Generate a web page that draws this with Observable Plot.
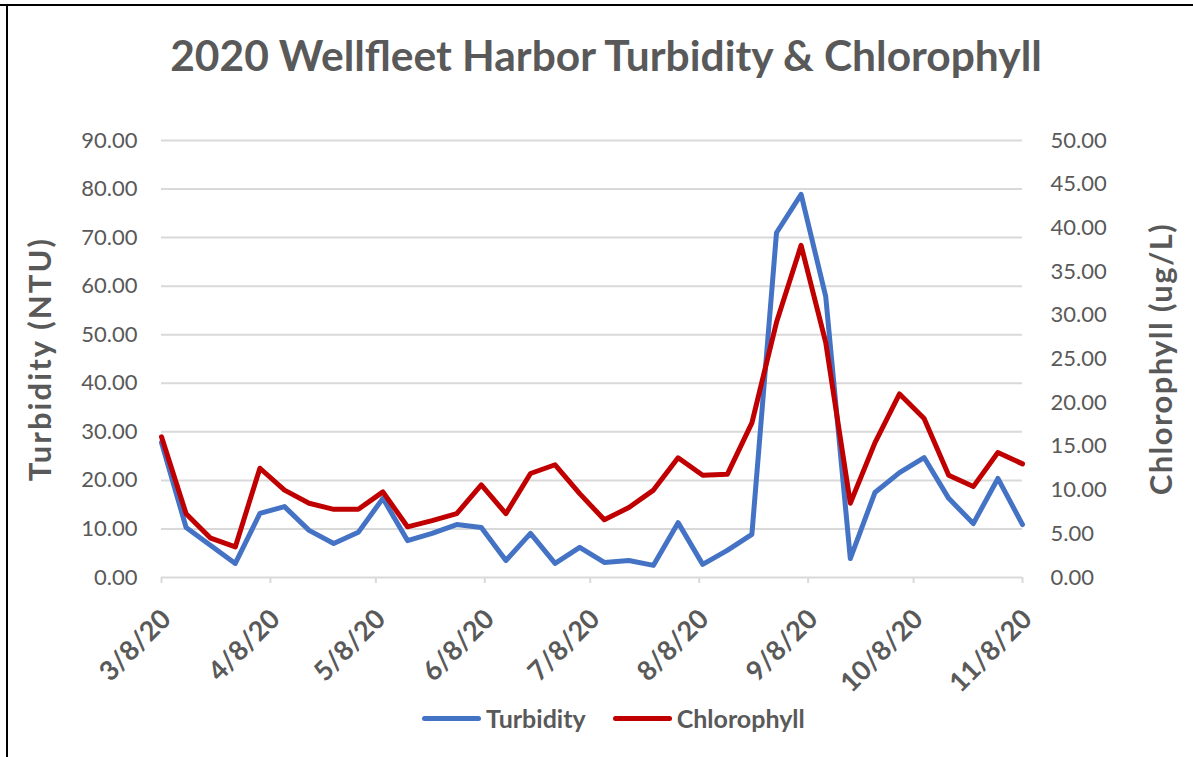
<!DOCTYPE html>
<html><head><meta charset="utf-8">
<script src="https://cdn.jsdelivr.net/npm/d3@7"></script>
<script src="https://cdn.jsdelivr.net/npm/@observablehq/plot@0.6"></script>
<style>
html,body{margin:0;padding:0;background:#fff;}
#frame{position:relative;width:1193px;height:757px;overflow:hidden;background:#fff;font-family:Lato,sans-serif;color:#595959;}
.bt{position:absolute;left:0;top:4px;width:1193px;height:2px;background:#000;}
.bl{position:absolute;left:6px;top:4px;width:2px;height:760px;background:#000;}
#title{position:absolute;top:34px;left:0;width:1212px;text-align:center;font-weight:700;font-size:42.5px;line-height:1;color:#595959;white-space:nowrap;}
#chart{position:absolute;top:100px;left:0;}
#legend{position:absolute;left:422px;top:705px;height:26px;display:flex;align-items:center;font-weight:700;font-size:25px;color:#595959;white-space:nowrap;}
#legend .sw{width:59px;height:5px;border-radius:3px;margin-right:5px;}
#legend .item{display:flex;align-items:center;margin-right:27px;}
</style></head>
<body>
<div id="frame">
  <div class="bt"></div><div class="bl"></div>
  <div id="title">2020 Wellfleet Harbor Turbidity &amp; Chlorophyll</div>
  <div id="chart"></div>
  <div id="legend"></div>
</div>
<script>
const dates = ["2020-03-08","2020-03-15","2020-03-22","2020-03-29","2020-04-05","2020-04-12","2020-04-19","2020-04-26",
  "2020-05-03","2020-05-10","2020-05-17","2020-05-24","2020-05-31","2020-06-07","2020-06-14","2020-06-21","2020-06-28",
  "2020-07-05","2020-07-12","2020-07-19","2020-07-26","2020-08-02","2020-08-09","2020-08-16","2020-08-23","2020-08-30",
  "2020-09-06","2020-09-13","2020-09-20","2020-09-27","2020-10-04","2020-10-11","2020-10-18","2020-10-25","2020-11-01","2020-11-08"];
const turbidity = [27.8,10.3,6.6,2.9,13.2,14.6,9.7,7.0,9.3,16.3,7.6,9.1,10.9,10.3,3.5,9.1,2.9,6.2,3.1,3.5,2.5,11.3,2.7,5.6,8.9,71.0,78.9,57.9,3.9,17.5,21.6,24.7,16.3,11.1,20.4,10.9];
const chlorophyll = [16.1,7.3,4.5,3.5,12.5,10.0,8.5,7.8,7.8,9.8,5.8,6.5,7.3,10.6,7.3,11.9,12.9,9.6,6.6,8.0,10.0,13.7,11.7,11.8,17.7,29.2,38.0,26.9,8.5,15.4,21.0,18.2,11.7,10.4,14.3,13.0];
const xTicks = ["2020-03-08","2020-04-08","2020-05-08","2020-06-08","2020-07-08","2020-08-08","2020-09-08","2020-10-08","2020-11-08"];
const leftTicks = [0,10,20,30,40,50,60,70,80,90];
const rightTicks = [0,5,10,15,20,25,30,35,40,45,50];
const seriesNames = ["Turbidity","Chlorophyll"];
const seriesColors = ["#4472C4","#C00000"];
const axisTitles = ["Turbidity (NTU)","Chlorophyll (ug/L)"];

const parse = d3.utcParse("%Y-%m-%d");
const k = 90/50;
const rows = dates.map((d,i)=>({date:parse(d), turb:turbidity[i], chl:chlorophyll[i]}));
const xTickDates = xTicks.map(parse);

const chart = Plot.plot({
  width:1193, height:590,
  marginTop:40, marginBottom:113, marginLeft:161, marginRight:171,
  style:{fontFamily:"Lato, sans-serif", color:"#595959", background:"transparent", overflow:"visible"},
  x:{type:"utc", domain:[xTickDates[0], xTickDates[xTickDates.length-1]]},
  y:{domain:[0,90]},
  marks:[
    Plot.gridY(leftTicks, {stroke:"#d9d9d9", strokeOpacity:1, strokeWidth:2}),
    Plot.axisY(leftTicks, {tickFormat:d=>d.toFixed(2), tickSize:0, tickPadding:24, fontSize:22, label:null}),
    Plot.axisY(rightTicks.map(v=>v*k), {anchor:"right", tickFormat:d=>(d/k).toFixed(2), tickSize:0, tickPadding:28, fontSize:22, label:null}),
    Plot.axisX(xTickDates, {tickFormat:()=>"", tickSize:6, stroke:"#d9d9d9", strokeWidth:2, strokeOpacity:1, label:null}),
    Plot.axisX(xTickDates, {tickFormat:d=>`${d.getUTCMonth()+1}/${d.getUTCDate()}/20`, tickRotate:-45, tickSize:0, tickPadding:37, dx:5, fontWeight:"bold", fontSize:27, label:null}),
    Plot.line(rows, {x:"date", y:"turb", stroke:seriesColors[0], strokeWidth:5, strokeLinejoin:"round", strokeLinecap:"round"}),
    Plot.line(rows, {x:"date", y:d=>d.chl*k, stroke:seriesColors[1], strokeWidth:5, strokeLinejoin:"round", strokeLinecap:"round"}),
    Plot.text([axisTitles[0]], {text:d=>d, frameAnchor:"left", textAnchor:"middle", dx:-120, rotate:-90, fontSize:31, fontWeight:"bold", fill:"#595959"}),
    Plot.text([axisTitles[1]], {text:d=>d, frameAnchor:"right", textAnchor:"middle", dx:140, rotate:-90, fontSize:31, fontWeight:"bold", fill:"#595959"})
  ]
});
chart.querySelectorAll("text").forEach(t=>{
  if (t.textContent===axisTitles[0]) t.style.letterSpacing="2.1px";
  if (t.textContent===axisTitles[1]) t.style.letterSpacing="1.4px";
});
document.getElementById("chart").appendChild(chart);

const legend = document.getElementById("legend");
seriesNames.forEach((n,i)=>{
  const it = document.createElement("div"); it.className="item";
  const sw = document.createElement("div"); sw.className="sw"; sw.style.background=seriesColors[i];
  const t = document.createElement("span"); t.textContent=n;
  it.appendChild(sw); it.appendChild(t); legend.appendChild(it);
});
</script>
</body></html>
